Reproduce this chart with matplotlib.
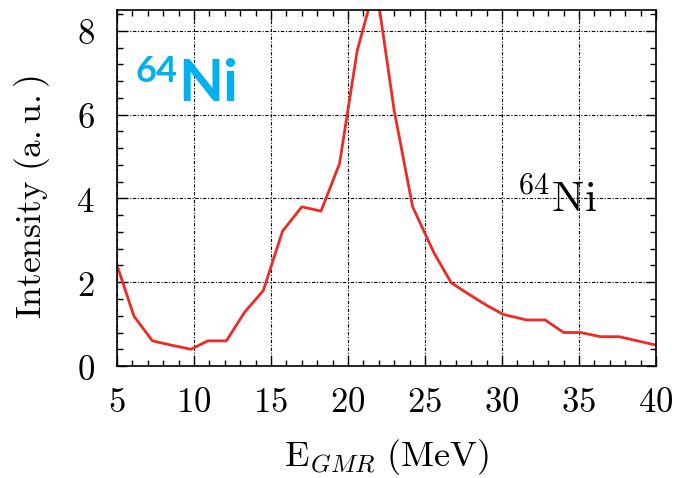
import matplotlib
matplotlib.use('Agg')
import matplotlib.pyplot as plt
from matplotlib.ticker import MultipleLocator, FuncFormatter

# GMR strength
energy = [5.0, 6.1, 7.3, 8.5, 9.8, 10.9, 12.1, 13.3, 14.5, 15.75, 17.0, 18.25,
          19.45, 20.6, 21.8, 23.0, 24.2, 25.6, 26.7, 27.9, 29.0, 30.1, 31.6,
          32.8, 34.0, 35.1, 36.4, 37.6, 40.0]
intensity = [2.41, 1.19, 0.60, 0.50, 0.40, 0.60, 0.60, 1.29, 1.80, 3.22, 3.80, 3.70,
             4.83, 7.53, 9.15, 6.10, 3.80, 2.69, 1.99, 1.70, 1.45, 1.23, 1.10,
             1.10, 0.80, 0.80, 0.70, 0.70, 0.50]
x_ticks = [5, 10, 15, 20, 25, 30, 35, 40]
y_ticks = [0, 2, 4, 6, 8]

plt.rcParams['mathtext.fontset'] = 'cm'

fig = plt.figure(figsize=(6.79, 4.78), dpi=100)
ax = fig.add_axes([0.1723, 0.2343, 0.7938, 0.7447])

ax.plot(energy, intensity, color='#ee2a24', lw=2)

ax.set_xlim(5, 40)
ax.set_ylim(0, 8.5)
ax.set_xticks(x_ticks)
ax.set_yticks(y_ticks)
ax.xaxis.set_minor_locator(MultipleLocator(1))
ax.yaxis.set_minor_locator(MultipleLocator(0.4))
fmt = FuncFormatter(lambda v, p: r'$%d$' % v)
ax.xaxis.set_major_formatter(fmt)
ax.yaxis.set_major_formatter(fmt)
ax.tick_params(which='both', direction='in', top=True, right=True, colors='black')
ax.tick_params(which='major', length=7, width=1, labelsize=25)
ax.tick_params(axis='x', which='major', pad=14)
ax.tick_params(axis='y', which='major', pad=16)
ax.tick_params(which='minor', length=4, width=1)
for s in ax.spines.values():
    s.set_linewidth(1.2)

ax.grid(True, which='major', color='black', lw=0.8, linestyle=(0, (3, 1.5, 1, 1.5)))

ax.set_ylabel(r'$\mathrm{Intensity\ (a.u.)}$', fontsize=25.5)
ax.set_xlabel(r'$\mathrm{E}_{GMR}\ \mathrm{(MeV)}$', fontsize=26)
ax.yaxis.set_label_coords(-0.121, 0.475)
ax.xaxis.set_label_coords(0.5, -0.2)

# labels
ax.text(30.96, 3.67, r'$^{64}\mathrm{Ni}$', fontsize=31, color='black',
        ha='left', va='baseline')
ax.text(6.2, 6.77, '64', fontsize=26, color='#00b0f0', fontweight='bold',
        family='Lato', ha='left', va='baseline')
ax.text(9.0, 6.32, 'Ni', fontsize=42, color='#00b0f0', fontweight='bold',
        family='Lato', ha='left', va='baseline')

fig.savefig('out.png', dpi=100)
